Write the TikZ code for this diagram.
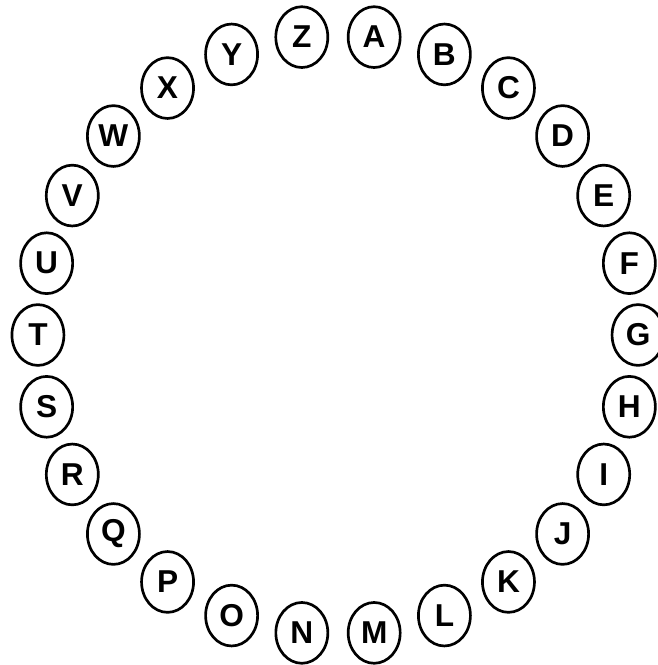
\documentclass[tikz,border=0pt]{standalone}
\usepackage{fontspec}
\setmainfont{Liberation Sans}
\usepackage{tikz}
\usetikzlibrary{shapes.geometric,calc}

\begin{document}
\begin{tikzpicture}[
		x=0.025cm, y=0.025cm,
		font=\fontsize{22.5}{26}\selectfont\bfseries,
		letter/.style={draw, ellipse, line width=1.9pt, inner sep=0pt,
				minimum width=1.3cm, minimum height=1.52cm}
		]
		\useasboundingbox (0,0) rectangle (658,665);
		\coordinate (ring) at (338,330);
		% 26 letters round the ring, A just right of the top
		\foreach \l [count=\i from 0] in {A,B,C,D,E,F,G,H,I,J,K,L,M,
				N,O,P,Q,R,S,T,U,V,W,X,Y,Z}
		{
			\node[letter] (ltr-\l) at ($(ring)+({83.077-\i*13.846}:7.5cm)$) {\l};
		}
	\end{tikzpicture}
\end{document}
